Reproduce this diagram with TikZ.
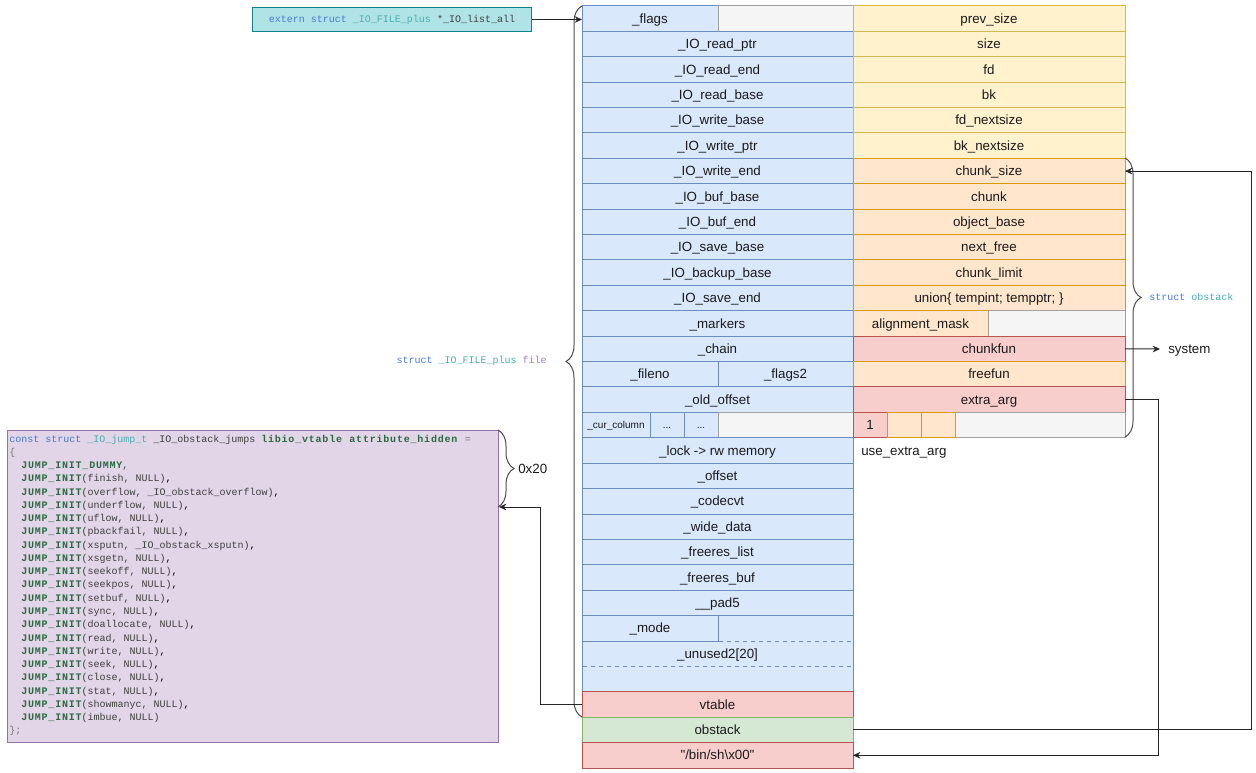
\documentclass[tikz,border=0pt]{standalone}
\usepackage{fontspec}
\setmainfont{Liberation Sans}
\newfontfamily\lsans{Liberation Sans}
\newfontfamily\codefont{Liberation Mono}
\usetikzlibrary{calc,arrows.meta,decorations.pathreplacing}
\definecolor{blueF}{HTML}{DAE8FC}\definecolor{blueD}{HTML}{6C8EBF}
\definecolor{grayF}{HTML}{F5F5F5}\definecolor{grayD}{HTML}{A0A0A0}
\definecolor{yelF}{HTML}{FFF2CC}\definecolor{yelD}{HTML}{D6B656}
\definecolor{orgF}{HTML}{FFE6CC}\definecolor{orgD}{HTML}{D79B00}
\definecolor{redF}{HTML}{F8CECC}\definecolor{redD}{HTML}{B85450}
\definecolor{grnF}{HTML}{D5E8D4}\definecolor{grnD}{HTML}{82B366}
\definecolor{purF}{HTML}{E1D5E7}\definecolor{purD}{HTML}{9673A6}
\definecolor{tealF}{HTML}{B0E3E6}\definecolor{tealD}{HTML}{0E8088}
\definecolor{cblue}{HTML}{4A7BD0}\definecolor{cteal}{HTML}{4BAFB0}
\definecolor{cgreen}{HTML}{2A6A42}\definecolor{cdark}{HTML}{404040}
\definecolor{cgray}{HTML}{7A7A7A}\definecolor{cpurp}{HTML}{A47DC0}
\definecolor{txt}{HTML}{1A1A1A}
% name, style, x1, x2, row1, row2, text
\newcommand\cell[7]{\node[cellb,#2,anchor=north west,
  minimum width={(#4-#3)*0.75pt}, minimum height={25.4*(#6-#5)*0.75pt}]
  (#1) at (#3,{6+25.4*#5}) {#7};}
\newcommand\gbold[1]{{\color{cgreen}\bfseries\addfontfeature{LetterSpace=8}#1}}
\newcommand\JI[1]{\phantom{xx}\gbold{JUMP\_INIT}{\color{cdark}(#1)}}
\newcommand\codesize{\codefont\fontsize{7.5pt}{9.95pt}\selectfont\spaceskip=4.5pt\relax}
\begin{document}
\begin{tikzpicture}[x=0.75pt,y=-0.75pt,
  cellb/.style={draw, inner sep=0pt, outer sep=0pt, line width=0.75pt, text=txt,
    font=\lsans\fontsize{10pt}{12pt}\selectfont, text height=9pt, text depth=2.1pt},
  blue/.style={fill=blueF, draw=blueD},
  gray/.style={fill=grayF, draw=grayD},
  yel/.style={fill=yelF, draw=yelD},
  org/.style={fill=orgF, draw=orgD},
  red/.style={fill=redF, draw=redD},
  grn/.style={fill=grnF, draw=grnD},
  small/.style={font=\lsans\fontsize{7.5pt}{9pt}\selectfont, text height=6.8pt, text depth=1.6pt},
  plain/.style={inner sep=0pt, text=txt, font=\lsans\fontsize{10pt}{12pt}\selectfont, text height=9pt, text depth=2.1pt},
  code/.style={inner sep=0pt, font=\codesize},
  arr/.style={-{Stealth[length=5.5pt,width=5pt]}, draw=black!85, line width=0.75pt},
  brc/.style={decorate, decoration={brace, amplitude=12pt}, draw=black!70, line width=0.75pt},
  dsh/.style={draw=blueD, dashed, line width=0.6pt}]
\useasboundingbox (0,0) rectangle (1256,773);
% left column: struct _IO_FILE_plus
\cell{L0}{blue}{582}{718}{0}{1}{\_flags}
\cell{L0g}{gray}{718}{853}{0}{1}{}
\cell{L1}{blue}{582}{853}{1}{2}{\_IO\_read\_ptr}
\cell{L2}{blue}{582}{853}{2}{3}{\_IO\_read\_end}
\cell{L3}{blue}{582}{853}{3}{4}{\_IO\_read\_base}
\cell{L4}{blue}{582}{853}{4}{5}{\_IO\_write\_base}
\cell{L5}{blue}{582}{853}{5}{6}{\_IO\_write\_ptr}
\cell{L6}{blue}{582}{853}{6}{7}{\_IO\_write\_end}
\cell{L7}{blue}{582}{853}{7}{8}{\_IO\_buf\_base}
\cell{L8}{blue}{582}{853}{8}{9}{\_IO\_buf\_end}
\cell{L9}{blue}{582}{853}{9}{10}{\_IO\_save\_base}
\cell{L10}{blue}{582}{853}{10}{11}{\_IO\_backup\_base}
\cell{L11}{blue}{582}{853}{11}{12}{\_IO\_save\_end}
\cell{L12}{blue}{582}{853}{12}{13}{\_markers}
\cell{L13}{blue}{582}{853}{13}{14}{\_chain}
\cell{L14a}{blue}{582}{718}{14}{15}{\_fileno}
\cell{L14b}{blue}{718}{853}{14}{15}{\_flags2}
\cell{L15}{blue}{582}{853}{15}{16}{\_old\_offset}
\cell{L16a}{blue,small}{582}{650}{16}{17}{\_cur\_column}
\cell{L16b}{blue,small}{650}{684}{16}{17}{...}
\cell{L16c}{blue,small}{684}{718}{16}{17}{...}
\cell{L16d}{gray}{718}{853}{16}{17}{}
\cell{L17}{blue}{582}{853}{17}{18}{\_lock -> rw memory}
\cell{L18}{blue}{582}{853}{18}{19}{\_offset}
\cell{L19}{blue}{582}{853}{19}{20}{\_codecvt}
\cell{L20}{blue}{582}{853}{20}{21}{\_wide\_data}
\cell{L21}{blue}{582}{853}{21}{22}{\_freeres\_list}
\cell{L22}{blue}{582}{853}{22}{23}{\_freeres\_buf}
\cell{L23}{blue}{582}{853}{23}{24}{\_\_pad5}
\cell{U}{blue}{582}{853}{24}{27}{}
\cell{L24}{blue}{582}{718}{24}{25}{\_mode}
\draw[dsh] (718.5,{6+25.4*25}) -- (852.5,{6+25.4*25});
\draw[dsh] (582.5,{6+25.4*26}) -- (852.5,{6+25.4*26});
\node[plain] (unu) at (717.5,{6+25.4*25.5}) {\_unused2[20]};
\cell{V}{red}{582}{853}{27}{28}{vtable}
\cell{O}{grn}{582}{853}{28}{29}{obstack}
\cell{B}{red}{582}{853}{29}{30}{"/bin/sh\textbackslash x00"}
% right column: chunk / struct obstack
\cell{R0}{yel}{853}{1125}{0}{1}{prev\_size}
\cell{R1}{yel}{853}{1125}{1}{2}{size}
\cell{R2}{yel}{853}{1125}{2}{3}{fd}
\cell{R3}{yel}{853}{1125}{3}{4}{bk}
\cell{R4}{yel}{853}{1125}{4}{5}{fd\_nextsize}
\cell{R5}{yel}{853}{1125}{5}{6}{bk\_nextsize}
\cell{R6}{org}{853}{1125}{6}{7}{chunk\_size}
\cell{R7}{org}{853}{1125}{7}{8}{chunk}
\cell{R8}{org}{853}{1125}{8}{9}{object\_base}
\cell{R9}{org}{853}{1125}{9}{10}{next\_free}
\cell{R10}{org}{853}{1125}{10}{11}{chunk\_limit}
\cell{R11}{org}{853}{1125}{11}{12}{union\{ tempint; tempptr; \}}
\cell{R12a}{org}{853}{988}{12}{13}{alignment\_mask}
\cell{R12b}{gray}{988}{1125}{12}{13}{}
\cell{R13}{red}{853}{1125}{13}{14}{chunkfun}
\cell{R14}{org}{853}{1125}{14}{15}{freefun}
\cell{R15}{red}{853}{1125}{15}{16}{extra\_arg}
\cell{R16a}{red}{853}{887}{16}{17}{1}
\cell{R16b}{org}{887}{921}{16}{17}{}
\cell{R16c}{org}{921}{955}{16}{17}{}
\cell{R16d}{gray}{955}{1125}{16}{17}{}
\node[plain, anchor=west] (uea) at (861,{6+25.4*17.5}) {use\_extra\_arg};
% extern box
\node[anchor=north west, minimum width={279*0.75pt}, minimum height={24*0.75pt},
  fill=tealF, draw=tealD, line width=0.75pt, code] (ext) at (252,7)
  {{\color{cblue}extern struct} {\color{cteal}\_IO\_FILE\_plus} {\color{cdark}*\_IO\_list\_all}};
% vtable box
\node[anchor=north west, minimum width={491*0.75pt}, minimum height={312*0.75pt},
  fill=purF, draw=purD, line width=0.75pt, inner sep=0pt] (pbox) at (7,430) {};
\node[code, anchor=north west, align=left] (codetxt) at (9,434.5) {%
{\color{cblue}const struct} {\color{cteal}\_IO\_jump\_t} {\color{cdark}\_IO\_obstack\_jumps} \gbold{libio\_vtable}\hspace{1pt} \gbold{attribute\_hidden}\hspace{1pt} {\color{cgray}=}\\
{\color{cgray}\{}\\
\phantom{xx}\gbold{JUMP\_INIT\_DUMMY}{\color{cdark},}\\
\JI{finish, NULL},\\
\JI{overflow, \_IO\_obstack\_overflow},\\
\JI{underflow, NULL},\\
\JI{uflow, NULL},\\
\JI{pbackfail, NULL},\\
\JI{xsputn, \_IO\_obstack\_xsputn},\\
\JI{xsgetn, NULL},\\
\JI{seekoff, NULL},\\
\JI{seekpos, NULL},\\
\JI{setbuf, NULL},\\
\JI{sync, NULL},\\
\JI{doallocate, NULL},\\
\JI{read, NULL},\\
\JI{write, NULL},\\
\JI{seek, NULL},\\
\JI{close, NULL},\\
\JI{stat, NULL},\\
\JI{showmanyc, NULL},\\
\JI{imbue, NULL}\\
{\color{cgray}\};}};
% braces and labels
\draw[brc] (582,717) -- (582,6);
\node[code, anchor=east] (fileLbl) at (547,361) {{\color{cblue}struct} {\color{cteal}\_IO\_FILE\_plus} {\color{cpurp}file}};
\draw[brc] (1125,158) -- (1125,437);
\node[code, anchor=west] (obLbl) at (1149,297) {{\color{cblue}struct} {\color{cteal}obstack}};
\draw[brc] (498,430) -- (498,507);
\node[plain, anchor=west] (sz) at (518,469) {0x20};
\node[plain, anchor=west] (sys) at (1160,349) {\hspace{6pt}system};
% connectors
\draw[arr] (ext.east) -- (ext.east -| L0.west);
\draw[arr] (R13.east) -- (sys.west);
\draw[arr] (R15.east) -- ++(33,0) |- (B.east);
\draw[arr] (O.east) -- ++(398,0) |- (R6.east);
\draw[arr] (V.west) -- ++(-42,0) |- ($(pbox.north east)+(0,77)$);
\end{tikzpicture}
\end{document}
